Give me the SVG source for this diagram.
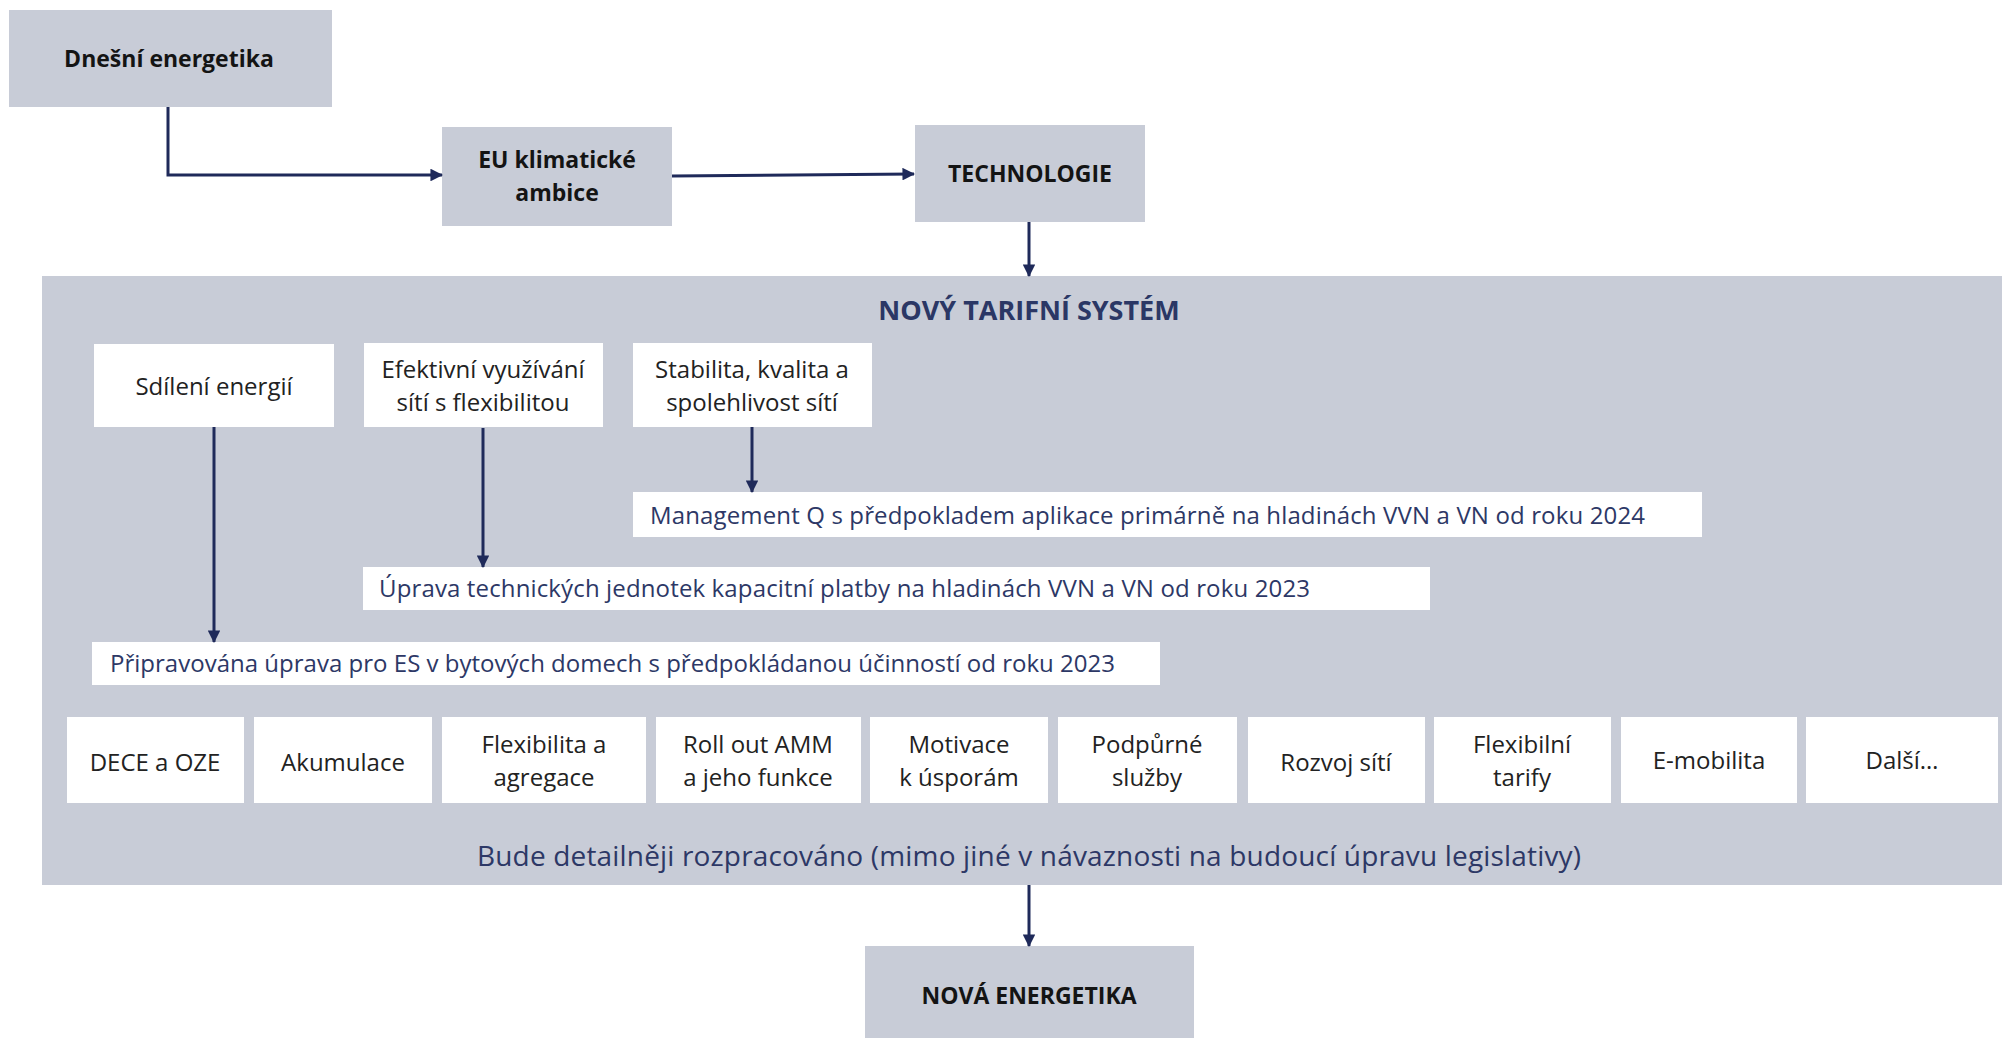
<svg xmlns="http://www.w3.org/2000/svg" width="2002" height="1038" viewBox="0 0 2002 1038">
<style>
  .g { fill: #c8ccd7; }
  .w { fill: #ffffff; }
  .tb { font-family: "Open Sans", "DejaVu Sans", sans-serif; font-weight: bold; font-size: 23px; fill: #141414; text-anchor: middle; }
  .tn { font-family: "Open Sans", "DejaVu Sans", sans-serif; font-size: 24px; fill: #222222; text-anchor: middle; }
  .tl { font-family: "Open Sans", "DejaVu Sans", sans-serif; font-size: 24px; fill: #2d3866; }
  .title { font-family: "Open Sans", "DejaVu Sans", sans-serif; font-weight: bold; font-size: 27px; fill: #2b3765; text-anchor: middle; }
  .bude { font-family: "Open Sans", "DejaVu Sans", sans-serif; font-size: 28px; fill: #2d3866; text-anchor: middle; }
  .c { stroke: #1f2a5a; stroke-width: 3; fill: none; }
</style>
<defs>
  <marker id="ah" viewBox="0 0 12 12" refX="11" refY="6" markerWidth="4.2" markerHeight="4.2" markerUnits="strokeWidth" orient="auto">
    <path d="M0,0 L12,6 L0,12 Z" fill="#1f2a5a"/>
  </marker>
</defs>

<rect width="2002" height="1038" fill="#ffffff"/>

<g id="panel">
  <rect class="g" x="42" y="276" width="1960" height="609"/>
  <text class="title" x="1029" y="320">NOVÝ TARIFNÍ SYSTÉM</text>
  <text class="bude" x="1029" y="866" textLength="1104" lengthAdjust="spacing">Bude detailněji rozpracováno (mimo jiné v návaznosti na budoucí úpravu legislativy)</text>
</g>

<g id="dnesni">
  <rect class="g" x="9" y="10" width="323" height="97"/>
  <text class="tb" x="169" y="67">Dnešní energetika</text>
</g>
<g id="eu">
  <rect class="g" x="442" y="127" width="230" height="99"/>
  <text class="tb" x="557" y="168">EU klimatické</text>
  <text class="tb" x="557" y="201">ambice</text>
</g>
<g id="technologie">
  <rect class="g" x="915" y="125" width="230" height="97"/>
  <text class="tb" x="1030" y="182">TECHNOLOGIE</text>
</g>
<g id="nova">
  <rect class="g" x="865" y="946" width="329" height="92"/>
  <text class="tb" x="1029" y="1004">NOVÁ ENERGETIKA</text>
</g>

<g id="sdileni">
  <rect class="w" x="94" y="344" width="240" height="83"/>
  <text class="tn" x="214" y="395">Sdílení energií</text>
</g>
<g id="efektivni">
  <rect class="w" x="364" y="343" width="239" height="84"/>
  <text class="tn" x="483" y="378">Efektivní využívání</text>
  <text class="tn" x="483" y="411">sítí s flexibilitou</text>
</g>
<g id="stabilita">
  <rect class="w" x="633" y="343" width="239" height="84"/>
  <text class="tn" x="752" y="378">Stabilita, kvalita a</text>
  <text class="tn" x="752" y="411">spolehlivost sítí</text>
</g>

<g id="management">
  <rect class="w" x="633" y="492" width="1069" height="45"/>
  <text class="tl" x="650" y="524" textLength="995" lengthAdjust="spacing">Management Q s předpokladem aplikace primárně na hladinách VVN a VN od roku 2024</text>
</g>
<g id="uprava">
  <rect class="w" x="363" y="567" width="1067" height="43"/>
  <text class="tl" x="379" y="597" textLength="931" lengthAdjust="spacing">Úprava technických jednotek kapacitní platby na hladinách VVN a VN od roku 2023</text>
</g>
<g id="pripravovana">
  <rect class="w" x="92" y="642" width="1068" height="43"/>
  <text class="tl" x="110" y="672" textLength="1005" lengthAdjust="spacing">Připravována úprava pro ES v bytových domech s předpokládanou účinností od roku 2023</text>
</g>

<g id="dece">
  <rect class="w" x="67" y="717" width="177" height="86"/>
  <text class="tn" x="155" y="771">DECE a OZE</text>
</g>
<g id="akumulace">
  <rect class="w" x="254" y="717" width="178" height="86"/>
  <text class="tn" x="343" y="771">Akumulace</text>
</g>
<g id="flexibilita">
  <rect class="w" x="442" y="717" width="204" height="86"/>
  <text class="tn" x="544" y="753">Flexibilita a</text>
  <text class="tn" x="544" y="786">agregace</text>
</g>
<g id="rollout">
  <rect class="w" x="656" y="717" width="205" height="86"/>
  <text class="tn" x="758" y="753">Roll out AMM</text>
  <text class="tn" x="758" y="786">a jeho funkce</text>
</g>
<g id="motivace">
  <rect class="w" x="870" y="717" width="178" height="86"/>
  <text class="tn" x="959" y="753">Motivace</text>
  <text class="tn" x="959" y="786">k úsporám</text>
</g>
<g id="podpurne">
  <rect class="w" x="1058" y="717" width="179" height="86"/>
  <text class="tn" x="1147" y="753">Podpůrné</text>
  <text class="tn" x="1147" y="786">služby</text>
</g>
<g id="rozvoj">
  <rect class="w" x="1248" y="717" width="177" height="86"/>
  <text class="tn" x="1336" y="771">Rozvoj sítí</text>
</g>
<g id="flextarify">
  <rect class="w" x="1434" y="717" width="177" height="86"/>
  <text class="tn" x="1522" y="753">Flexibilní</text>
  <text class="tn" x="1522" y="786">tarify</text>
</g>
<g id="emobilita">
  <rect class="w" x="1621" y="717" width="176" height="86"/>
  <text class="tn" x="1709" y="769">E-mobilita</text>
</g>
<g id="dalsi">
  <rect class="w" x="1806" y="717" width="192" height="86"/>
  <text class="tn" x="1902" y="769">Další…</text>
</g>

<g id="connectors">
  <path class="c" d="M168,107 V175 H442" marker-end="url(#ah)"/>
  <path class="c" d="M672,176 L914,174" marker-end="url(#ah)"/>
  <path class="c" d="M1029,222 V276" marker-end="url(#ah)"/>
  <path class="c" d="M214,427 V642" marker-end="url(#ah)"/>
  <path class="c" d="M483,428 V567" marker-end="url(#ah)"/>
  <path class="c" d="M752,427 V492" marker-end="url(#ah)"/>
  <path class="c" d="M1029,885 V946" marker-end="url(#ah)"/>
</g>
</svg>
